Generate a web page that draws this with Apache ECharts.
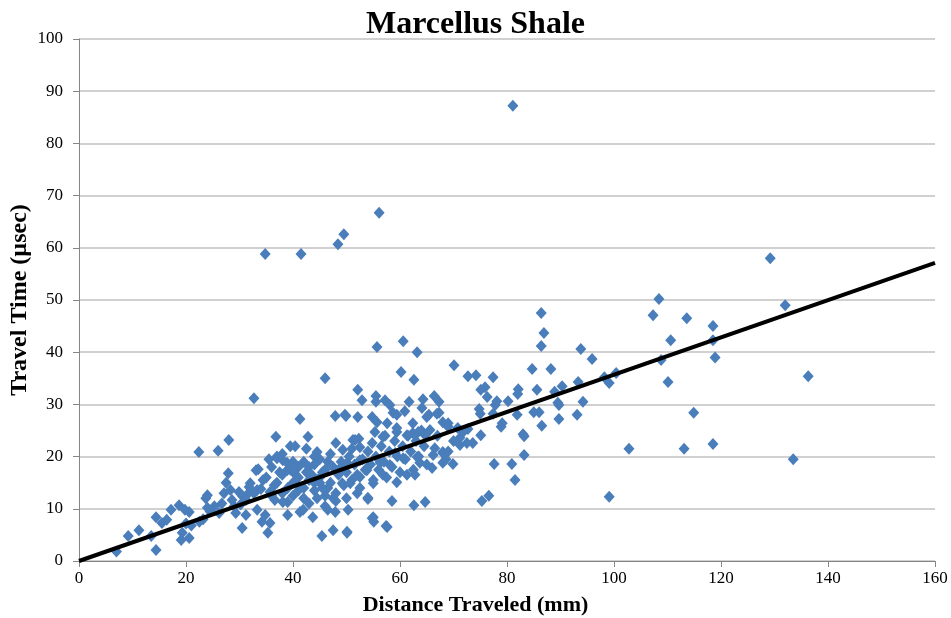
<!DOCTYPE html>
<html>
<head>
<meta charset="utf-8">
<title>Marcellus Shale</title>
<script src="https://cdn.jsdelivr.net/npm/echarts@6/dist/echarts.min.js"></script>
<style>
  html, body { margin: 0; padding: 0; background: #ffffff; }
  #chart { width: 951px; height: 618px; }
</style>
</head>
<body>
<div id="chart"></div>
<script>
// Distance traveled (mm) vs. travel time (µsec) for each measurement
const measurements = [
  [7,1.8],[9.2,4.8],[11.2,5.9],[13.5,4.8],[14.4,2.1],[14.4,8.4],[15.5,7.3],[16.4,7.9],[17.2,9.8],[18.7,10.7],
  [19.1,4],[19.3,5.4],[20.6,4.4],[20.6,9.4],[19.8,9.8],[21,6.8],[20,7.2],[22.4,20.9],[22.5,7.5],[23.2,8],
  [24,10.2],[24,12.6],[23.7,12],[24.5,9.5],[25.3,10.5],[26,21.1],[26.2,9.2],[26.7,11],[27.1,13],[27.5,15],
  [27.9,16.8],[28,23.2],[28.6,11.7],[29.3,9.2],[29.9,13.2],[30.5,6.3],[31.2,8.8],[31.2,11.7],[30.5,12.5],[31.8,14.2],
  [32.7,13],[33.1,17.4],[32,14.9],[32.7,31.2],[29,10.5],[28.3,13.6],[30.2,10.8],[31.5,12.8],
  [33.3,13.6],[33.5,17.6],[34.4,15.5],[33.3,9.8],[34.2,7.5],[34.8,8.8],[35.3,5.4],[35.7,7.3],[35.7,13.2],[36.6,11.7],
  [36.8,23.8],[37,20],[37,19.7],[38.1,19.3],[38.9,18.8],[38.1,11.3],[39,11.3],[39,8.8],[38.9,17.4],[41.3,9.4],
  [41.9,9.8],[40.4,22],[42.8,23.8],[41.3,27.2],[43.7,8.4],[44.5,20.9],[45.4,4.8],[46.5,9.8],[47.5,5.9],[47.9,9.4],
  [48,22.6],[47.9,27.8],[46,35],[49.9,27.8],[50.1,5.6],[50.3,9.8],[49.2,14.9],[49.3,21.3],[48.8,17],
  [36,18],[38,16.5],[39.5,17.5],[40,15],[41,16],[42,14],[42.5,17],[43,15.5],[44,13.5],[44,18.5],
  [45,16],[45.5,14],[46,17.5],[46,12.5],[47,15],[47.5,18],[48,13],[48.5,16.5],[49,19],[49.5,14.5],
  [35,16],[34,13.8],[36,12.5],[37,15],[38,13],[40,12.5],[41,13.5],[43,11],[44.5,12],[46,10.5],
  [48,11.5],[45,19.5],[47,20.5],[44,20],[42,19],[40,19],[38,20.5],[39,14],[42,12],[43.5,16.5],
  [45.5,17],[46.5,14],[47.5,12],[49,18],[41,18],[36.5,14.5],[37.5,17],[35.5,19.5],[39.5,22],[42.5,21.5],
  [45,15],[46.5,19],[44,15],[43,18],[40.5,16.5],
  [50,17],[50.5,20],[51,15.5],[51.5,18.5],[52,16.5],[52.5,14],[53,19.5],[53.5,17.5],[54,21],[54.5,18.5],
  [55,15.5],[55.5,20],[56,17.5],[56.5,22],[57,19],[57.5,16],[58,21],[58.5,18],[59,23],[59.5,20],
  [60,17],[60.5,22],[61,19.5],[61.5,24],[62,21],[62.5,17.5],[63,23],[63.5,20],[64,25],[64.5,22],
  [65,18.5],[50,12],[52,13],[51,21.5],
  [51.2,23.2],[52.3,23.4],[55.3,24.7],[57.2,24],[59.4,24.7],[62.4,24.5],[64.7,24.1],[54,11.9],[54.8,8.2],[55.1,7.5],
  [57.6,6.5],[58.5,11.5],[62.6,10.7],[64.7,11.3],
  [55.7,41],[60.6,42.1],[63.2,40],[60.2,36.2],[62.6,34.7],[52.1,32.8],[52.9,30.8],[55.5,31.6],[55.5,30.5],[57.2,30.8],
  [58.1,29.9],[61.7,30.5],[64.3,31],[64.1,29.3],[52.1,27.6],[54.8,27.6],[55.7,26.6],[57.6,26.4],[59.4,28],[60.9,28.7],
  [62.4,26.4],[65,27.6],[49.7,28],[58.7,28.4],
  [51.6,23.2],[52.5,21.8],[54.8,22.6],[56.8,23.8],[59.4,25.5],[61.3,24.1],[63.4,24.7],[65.6,25.1],[50.1,18.8],[52.5,19.3],
  [53.8,17.4],[56.3,18.8],[56.8,16.5],[58.1,18.4],[59.1,20.7],[60.6,19.7],[61.3,16.5],[59.4,15.1],[63.2,19.9],[63.7,18.8],
  [52.5,16.1],[50.7,14.9],[55,14.9],[54,12.1],[62.8,16.5],[50.1,5.4],[57.4,6.7],[55,8.4],
  [66.2,20.3],[68,20.7],[68,18.8],[66,17.8],[69.9,18.6],[66.5,21.6],[68,20.9],[68.6,19.5],[71.2,22.2],[72.5,22.6],
  [73.6,22.6],[75.1,24.1],[83.2,23.9],[83.2,20.3],[77.6,18.6],[80.9,18.6],[81.5,15.5],[75.3,11.5],[76.6,12.5],[71.2,23.6],
  [70.1,37.5],[72.7,35.4],[74.2,35.6],[77.4,35.2],[84.7,36.8],[88.2,36.8],[75.1,32.8],[75.9,33.3],[76.3,31.4],[82.1,32.9],
  [82,32],[85.6,32.8],[88.9,32.4],[90.3,33.5],[93.3,34.3],[66.4,31.6],[67.3,30.5],[78.1,30.6],[77.8,29.9],[80.2,30.6],
  [89.5,30.3],[89.7,29.9],[94.2,30.5],[74.8,29.1],[75,28.2],[77.4,28.2],[81.9,28],[85,28.5],[86,28.5],[93.1,28],
  [65.4,28],[67.3,28.4],[69,26.4],[79.1,26.4],[78.9,25.7],[89.7,27.2],[86.5,25.9],[83,24.3],[71.8,24.7],[66.9,28.2],
  [68,26.6],[69,25.7],[70.8,25.5],[72.7,25.3],[86.4,47.5],[86.9,43.7],[86.4,41.2],[93.8,40.6],[95.9,38.7],
  [98.2,35.2],[99.1,34.1],[100.4,36],[99.1,12.3],[67,24],[70,23],[69,21],
  [108.4,50.2],[107.3,47.1],[113.6,46.5],[118.5,45],[132,49],[110.6,42.3],[118.5,42.3],[108.8,38.5],[118.9,39],[110.1,34.3],
  [114.9,28.4],[102.8,21.5],[113.1,21.5],[118.5,22.4],[133.5,19.5],[136.3,35.4],[129.2,58],
  [81.1,87.2],[56.1,66.7],[49.5,62.6],[48.4,60.7],[34.8,58.8],[41.5,58.8]
];

// Linear fit through the origin: endpoints of the trend line
const trendLine = [[0, 0], [160, 57.1]];

// Axis ranges and tick spacing
const xAxisRange = [0, 160];
const xTickStep = 20;
const yAxisRange = [0, 100];
const yTickStep = 10;

const serif = '"Liberation Serif", "Times New Roman", serif';

const chart = echarts.init(document.getElementById('chart'), null, { renderer: 'canvas' });

chart.setOption({
  animation: false,
  backgroundColor: '#ffffff',
  title: {
    text: 'Marcellus Shale',
    left: 'center',
    top: 4,
    textStyle: { fontFamily: serif, fontWeight: 'bold', fontSize: 32, color: '#000000' }
  },
  // x-axis title, centred on the chart as a whole
  graphic: [{
    type: 'text',
    left: 'center',
    top: 594,
    style: {
      text: 'Distance Traveled (mm)',
      font: 'bold 22px ' + serif,
      fill: '#000000'
    }
  }],
  grid: { left: 79, right: 16, top: 39, bottom: 57, containLabel: false, outerBoundsMode: 'none' },
  xAxis: {
    type: 'value',
    min: xAxisRange[0],
    max: xAxisRange[1],
    interval: xTickStep,
    axisLine: { lineStyle: { color: '#868686', width: 1 } },
    axisTick: { show: true, inside: false, length: 6, lineStyle: { color: '#868686' } },
    axisLabel: { fontFamily: serif, fontSize: 17, color: '#000000', margin: 9 },
    splitLine: { show: false }
  },
  yAxis: {
    type: 'value',
    min: yAxisRange[0],
    max: yAxisRange[1],
    interval: yTickStep,
    name: 'Travel Time (µsec)',
    nameLocation: 'middle',
    nameGap: 47,
    nameMoveOverlap: false,
    nameRotate: 90,
    nameTextStyle: { fontFamily: serif, fontWeight: 'bold', fontSize: 24, color: '#000000' },
    axisLine: { show: true, lineStyle: { color: '#868686', width: 1 } },
    axisTick: { show: true, inside: false, length: 6, lineStyle: { color: '#868686' } },
    axisLabel: { fontFamily: serif, fontSize: 17, color: '#000000', margin: 16 },
    splitLine: { show: true, lineStyle: { color: '#c0c0c0', width: 1.5 } }
  },
  series: [
    {
      type: 'scatter',
      data: measurements,
      symbol: 'diamond',
      symbolSize: [11, 12],
      itemStyle: { color: '#4a7ebb', opacity: 1 },
      z: 2
    },
    {
      type: 'line',
      data: trendLine,
      symbol: 'none',
      lineStyle: { color: '#000000', width: 4 },
      z: 3
    }
  ]
});
</script>
</body>
</html>
